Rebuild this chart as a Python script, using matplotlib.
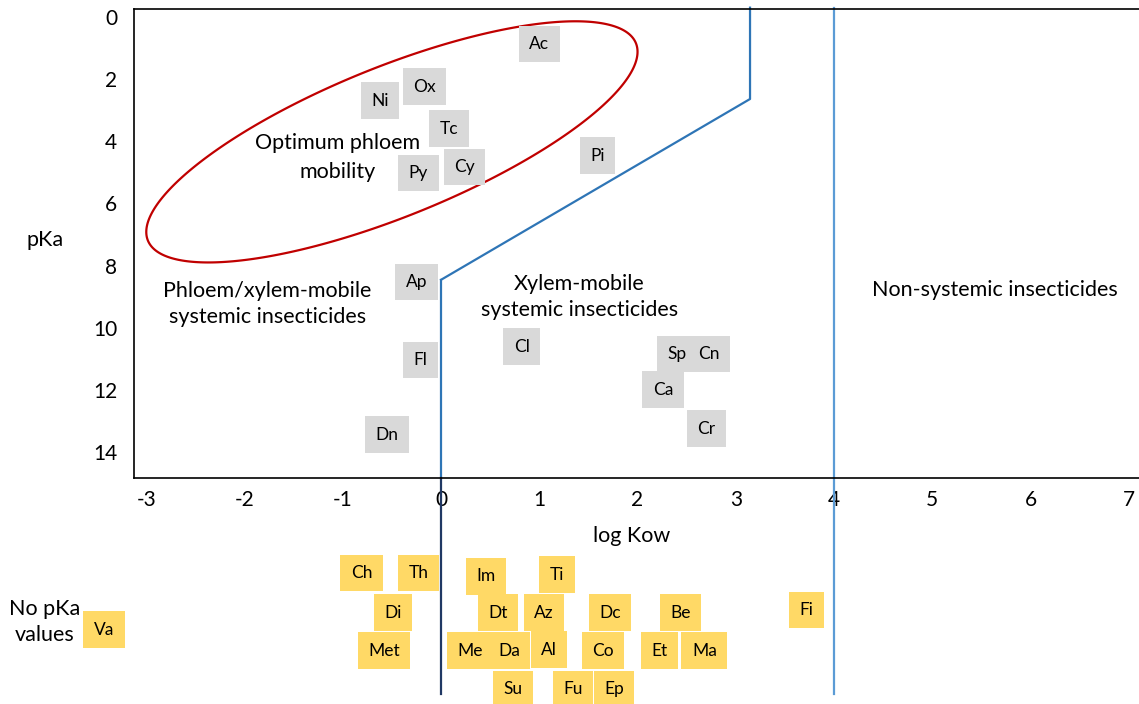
import numpy as np
import matplotlib
import matplotlib.pyplot as plt
from matplotlib.patches import Polygon

matplotlib.use('Agg')
plt.rcParams['font.family'] = ['Lato', 'DejaVu Sans']
plt.rcParams['axes.unicode_minus'] = False

# insecticides with a pKa value (grey boxes)
pka_names = ["Ac", "Ox", "Ni", "Tc", "Py", "Cy", "Pi", "Ap", "Fl", "Dn", "Cl", "Sp", "Cn", "Ca", "Cr"]
pka_logkow = [1.00, -0.17, -0.62, 0.08, -0.23, 0.24, 1.59, -0.25, -0.21, -0.55, 0.82, 2.40, 2.73, 2.26, 2.70]
pka_values = [0.87, 2.25, 2.70, 3.60, 5.02, 4.83, 4.47, 8.53, 11.04, 13.45, 10.62, 10.85, 10.85, 12.00, 13.26]

# insecticides without pKa (yellow boxes), stacked in rows under the x axis
nopka_names = ["Va", "Ch", "Th", "Di", "Met", "Im", "Ti", "Dt", "Az", "Dc", "Be", "Fi",
               "Me", "Da", "Al", "Co", "Et", "Ma", "Su", "Fu", "Ep"]
nopka_logkow = [-3.43, -0.81, -0.23, -0.49, -0.58, 0.46, 1.18, 0.58, 1.05, 1.72, 2.44, 3.72,
                0.30, 0.69, 1.10, 1.65, 2.22, 2.68, 0.73, 1.34, 1.76]
nopka_level = [19.73, 17.90, 17.90, 19.18, 20.40, 18.00, 17.95, 19.18, 19.18, 19.18, 19.18, 19.09,
               20.40, 20.40, 20.37, 20.40, 20.40, 20.40, 21.63, 21.63, 21.63]

# boundaries between mobility classes (log Kow, pKa)
xylem_bound_x = [0.0, 0.0, 3.145, 3.145]
xylem_bound_y = [21.8, 8.46, 2.64, -0.3]
nonsys_bound_x = [4.0, 4.0]
nonsys_bound_y = [-0.3, 21.8]

# optimum phloem mobility region (ellipse centre and conjugate half axes)
ell_center = (-0.50, 4.02)
ell_u = (2.50, -2.90)
ell_v = (0.0, 2.58)

x_ticks = [-3, -2, -1, 0, 1, 2, 3, 4, 5, 6, 7]
y_ticks = [0, 2, 4, 6, 8, 10, 12, 14]

fig = plt.figure(figsize=(11.39, 7.04), dpi=100)
ax = fig.add_axes([134 / 1139, 226 / 704, 1005 / 1139, 469 / 704])
ax.set_xlim(-3.125, 7.104)
ax.set_ylim(14.84, -0.257)

for s in ['left', 'bottom', 'top']:
    ax.spines[s].set_linewidth(1.2)
ax.spines['right'].set_visible(False)

ax.set_xticks(x_ticks)
ax.set_yticks(y_ticks)
ax.tick_params(axis='both', length=0, labelsize=15)
ax.tick_params(axis='x', pad=9)
ax.tick_params(axis='y', pad=12)

# boundary lines
ax.plot(xylem_bound_x[1:], xylem_bound_y[1:], color='#2E75B6', lw=1.6, clip_on=False)
ax.plot(xylem_bound_x[:2], [14.84, xylem_bound_y[1]], color='#2E75B6', lw=1.6, clip_on=False)
ax.plot(xylem_bound_x[:2], [xylem_bound_y[0], 14.84], color='#203864', lw=1.6, clip_on=False)
ax.plot(nonsys_bound_x, nonsys_bound_y, color='#5B9BD5', lw=1.6, clip_on=False)

t = np.linspace(0, 2 * np.pi, 400, endpoint=False)
ex = ell_center[0] + ell_u[0] * np.cos(t) + ell_v[0] * np.sin(t)
ey = ell_center[1] + ell_u[1] * np.cos(t) + ell_v[1] * np.sin(t)
ax.add_patch(Polygon(np.column_stack([ex, ey]), closed=True, fill=False,
                     edgecolor='#C00000', lw=1.6, joinstyle='round'))

# grey labelled boxes
for name, kx, ky in zip(pka_names, pka_logkow, pka_values):
    ax.text(kx, ky, name, ha='center', va='center', fontsize=12.5, zorder=4,
            bbox=dict(boxstyle='square,pad=0.6', fc='#D9D9D9', ec='none'))

# yellow labelled boxes
for name, kx, ky in zip(nopka_names, nopka_logkow, nopka_level):
    ax.text(kx, ky, name, ha='center', va='center', fontsize=12.5, zorder=4, clip_on=False,
            bbox=dict(boxstyle='square,pad=0.6', fc='#FFD966', ec='none'))

# region labels
ax.text(-1.05, 4.05, "Optimum phloem", ha='center', va='center', fontsize=15.5)
ax.text(-1.05, 4.98, "mobility", ha='center', va='center', fontsize=15.5)
ax.text(-1.77, 9.24, "Phloem/xylem-mobile\nsystemic insecticides", ha='center', va='center',
        fontsize=15.5, linespacing=1.32)
ax.text(1.41, 9.01, "Xylem-mobile\nsystemic insecticides", ha='center', va='center',
        fontsize=15.5, linespacing=1.35)
ax.text(5.64, 8.79, "Non-systemic insecticides", ha='center', va='center', fontsize=15.5)

fig.text(632 / 1139, 1 - 536 / 704, "log Kow", ha='center', va='center', fontsize=15.5)
fig.text(45 / 1139, 1 - 240 / 704, "pKa", ha='center', va='center', fontsize=15.5)
fig.text(45 / 1139, 1 - 622 / 704, "No pKa\nvalues", ha='center', va='center', fontsize=15.5,
         linespacing=1.35)

plt.savefig("out.png", dpi=100)
